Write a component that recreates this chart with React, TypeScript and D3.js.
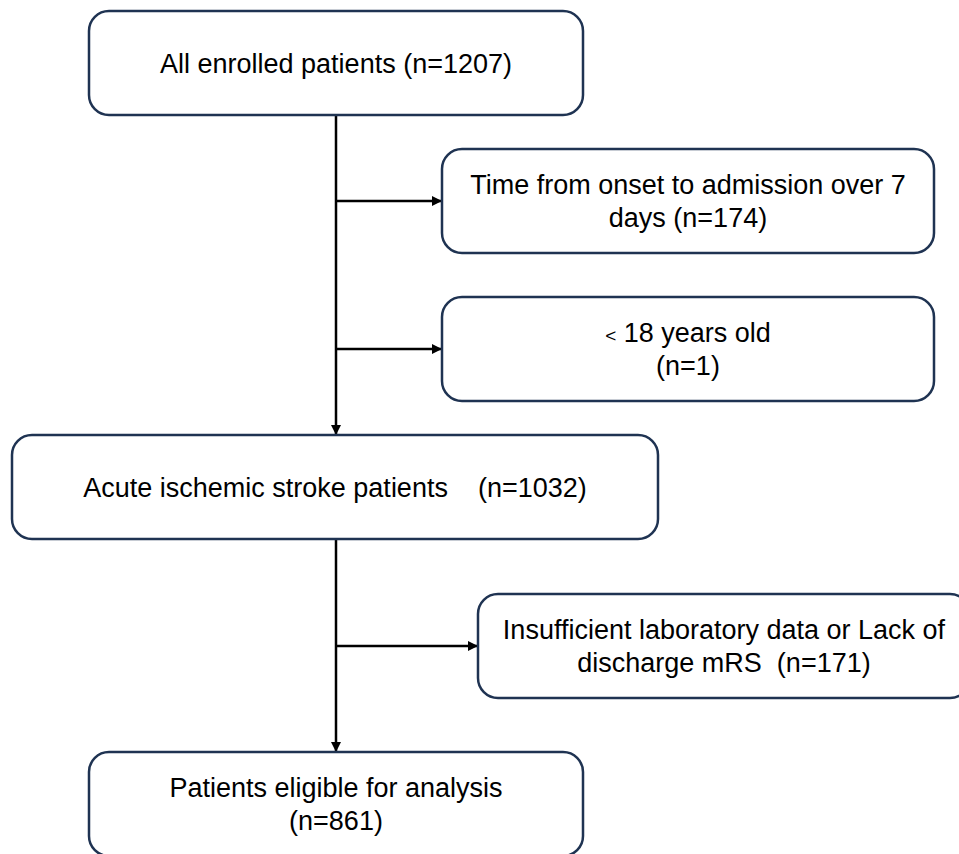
import React, { useEffect, useRef } from "react";
import * as d3 from "d3";

// flow chart content
const stepLabels = [
  ["All enrolled patients (n=1207)"],
  ["Acute ischemic stroke patients    (n=1032)"],
  ["Patients eligible for analysis", "(n=861)"],
];
const exclusionLabels = [
  ["Time from onset to admission over 7", "days (n=174)"],
  ["< 18 years old", "(n=1)"],
  ["Insufficient laboratory data or Lack of", "discharge mRS  (n=171)"],
];

const W = 959;
const H = 854;

export default function App() {
  const ref = useRef<SVGSVGElement>(null);

  useEffect(() => {
    const svg = d3.select(ref.current);
    svg.selectAll("*").remove();

    const boxStroke = "#1f3352";
    const font = "'Liberation Sans', Arial, sans-serif";
    const fs = 27;
    const lineGap = 33;

    // layout of the boxes (page pixels)
    const stepBoxes = [
      { x: 89, y: 11, w: 494, h: 104 },
      { x: 12, y: 435, w: 646, h: 104 },
      { x: 89, y: 752, w: 494, h: 104 },
    ];
    const exBoxes = [
      { x: 442, y: 149, w: 492, h: 104 },
      { x: 442, y: 297, w: 492, h: 104 },
      { x: 478, y: 594, w: 492, h: 104 },
    ];
    const spineX = 336;

    svg.append("defs").append("marker")
      .attr("id", "arrow")
      .attr("viewBox", "0 0 10 10")
      .attr("refX", 10)
      .attr("refY", 5)
      .attr("markerWidth", 11)
      .attr("markerHeight", 10)
      .attr("markerUnits", "userSpaceOnUse")
      .attr("orient", "auto")
      .append("path")
      .attr("d", "M0,0 L10,5 L0,10 Z")
      .attr("fill", "#000");

    const lines = svg.append("g")
      .attr("stroke", "#000")
      .attr("stroke-width", 2.5)
      .attr("fill", "none");

    // vertical connectors between the main steps
    for (let i = 0; i < stepBoxes.length - 1; i++) {
      lines.append("line")
        .attr("x1", spineX)
        .attr("y1", stepBoxes[i].y + stepBoxes[i].h)
        .attr("x2", spineX)
        .attr("y2", stepBoxes[i + 1].y)
        .attr("marker-end", "url(#arrow)");
    }

    // side branches to the exclusion boxes
    exBoxes.forEach((b) => {
      lines.append("line")
        .attr("x1", spineX)
        .attr("y1", b.y + b.h / 2)
        .attr("x2", b.x)
        .attr("y2", b.y + b.h / 2)
        .attr("marker-end", "url(#arrow)");
    });

    const drawBox = (b: { x: number; y: number; w: number; h: number }, label: string[]) => {
      const g = svg.append("g");
      g.append("rect")
        .attr("x", b.x)
        .attr("y", b.y)
        .attr("width", b.w)
        .attr("height", b.h)
        .attr("rx", 20)
        .attr("fill", "#fff")
        .attr("stroke", boxStroke)
        .attr("stroke-width", 2.5);
      const cx = b.x + b.w / 2;
      const cy = b.y + b.h / 2;
      const startY = cy - ((label.length - 1) * lineGap) / 2 + fs * 0.36;
      label.forEach((t, i) => {
        const txt = g.append("text")
          .attr("x", cx)
          .attr("y", startY + i * lineGap)
          .attr("text-anchor", "middle")
          .attr("font-family", font)
          .attr("font-size", fs)
          .attr("fill", "#000")
          .style("white-space", "pre");
        if (t.startsWith("<")) {
          txt.append("tspan").attr("font-size", 19).text("<");
          txt.append("tspan").text(t.slice(1));
        } else {
          txt.text(t);
        }
      });
    };

    stepBoxes.forEach((b, i) => drawBox(b, stepLabels[i]));
    exBoxes.forEach((b, i) => drawBox(b, exclusionLabels[i]));
  }, []);

  return (
    <svg
      ref={ref}
      width={W}
      height={H}
      style={{ position: "absolute", left: 0, top: 0, background: "#fff" }}
    />
  );
}
